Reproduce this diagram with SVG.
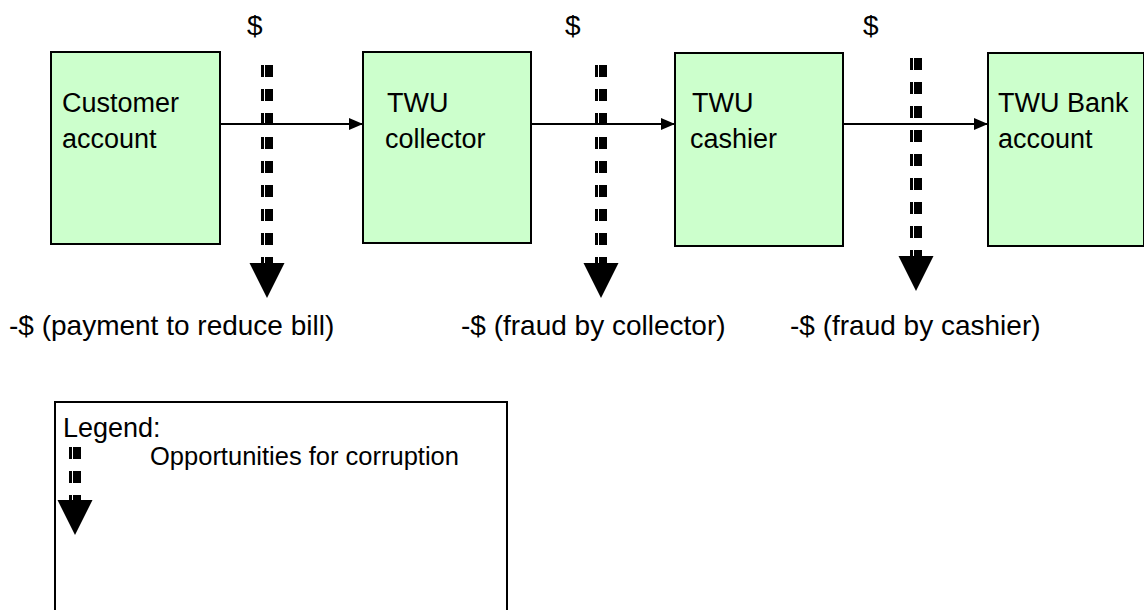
<svg xmlns="http://www.w3.org/2000/svg" width="1144" height="610" viewBox="0 0 1144 610">
  <defs>
    <marker id="flowHead" markerWidth="14" markerHeight="12" refX="14" refY="6" orient="auto" markerUnits="userSpaceOnUse">
      <path d="M0,0 L14,6 L0,12 Z" fill="#000"/>
    </marker>
    <!-- dashed "corruption" shaft: thin stripe + thick stripe, then a big head -->
    <g id="leak">
      <line x1="-4.5" y1="0" x2="-4.5" y2="198" class="thin"/>
      <line x1="2" y1="0" x2="2" y2="198" class="thick"/>
      <path d="M-17.5,198 L17.5,198 L0,233 Z" fill="#000"/>
    </g>
  </defs>
  <style>
    .box { fill: #ccffcc; stroke: #000; stroke-width: 2; }
    .label { font-family: "Liberation Sans", Arial, Helvetica, sans-serif; font-size: 27px; fill: #000; }
    .note { font-family: "Liberation Sans", Arial, Helvetica, sans-serif; font-size: 28px; fill: #000; }
    .flow { stroke: #000; stroke-width: 2; fill: none; marker-end: url(#flowHead); }
    .thin { stroke: #000; stroke-width: 3; stroke-dasharray: 12 12; }
    .thick { stroke: #000; stroke-width: 8; stroke-dasharray: 12 12; }
  </style>
  <rect width="1144" height="610" fill="#fff"/>

  <!-- process nodes -->
  <g id="customer-account">
    <rect class="box" x="51" y="52" width="169" height="192"/>
    <text class="label" x="62" y="112">Customer</text>
    <text class="label" x="62" y="148">account</text>
  </g>
  <g id="twu-collector">
    <rect class="box" x="363" y="52" width="168" height="191"/>
    <text class="label" x="387" y="112">TWU</text>
    <text class="label" x="385" y="148">collector</text>
  </g>
  <g id="twu-cashier">
    <rect class="box" x="675" y="53" width="168" height="193"/>
    <text class="label" x="692" y="112">TWU</text>
    <text class="label" x="690" y="148">cashier</text>
  </g>
  <g id="twu-bank-account">
    <rect class="box" x="988" y="53" width="156" height="193"/>
    <text class="label" x="998" y="112">TWU Bank</text>
    <text class="label" x="998" y="148">account</text>
  </g>

  <!-- connectors -->
  <g id="connectors">
    <line class="flow" x1="220" y1="124" x2="363" y2="124"/>
    <line class="flow" x1="531" y1="124" x2="675" y2="124"/>
    <line class="flow" x1="843" y1="124" x2="988" y2="124"/>
    <use href="#leak" x="267" y="65"/>
    <use href="#leak" x="601" y="65"/>
    <use href="#leak" x="916" y="58"/>
  </g>

  <!-- money labels -->
  <g id="money-labels">
    <text class="note" x="247" y="35">$</text>
    <text class="note" x="565" y="35">$</text>
    <text class="note" x="863" y="35">$</text>
    <text class="note" x="9" y="335">-$ (payment to reduce bill)</text>
    <text class="note" x="461" y="335">-$ (fraud by collector)</text>
    <text class="note" x="790" y="335">-$ (fraud by cashier)</text>
  </g>

  <!-- legend -->
  <g id="legend">
    <rect x="55" y="402" width="452" height="230" fill="#fff" stroke="#000" stroke-width="2"/>
    <text class="label" x="63" y="437">Legend:</text>
    <line x1="70.5" y1="447" x2="70.5" y2="500" class="thin"/>
    <line x1="77" y1="447" x2="77" y2="500" class="thick"/>
    <path d="M57.5,500 L92.5,500 L75,535 Z" fill="#000"/>
    <text class="label" x="150" y="465" style="font-size:25.5px">Opportunities for corruption</text>
  </g>
</svg>
